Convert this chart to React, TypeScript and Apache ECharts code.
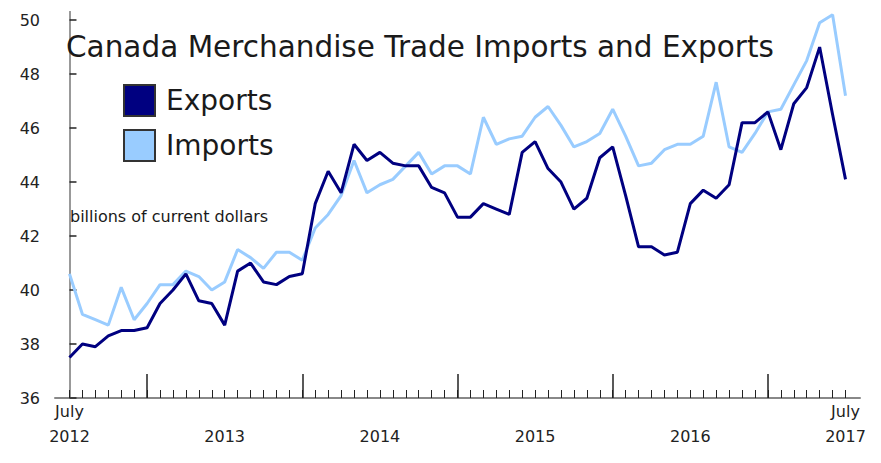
import React, { useEffect, useRef } from "react";
import * as echarts from "echarts";

const months: number[] = Array.from({ length: 61 }, (_, i) => i); // July 2012 .. July 2017

const exportsData = [
  37.5, 38.0, 37.9, 38.3, 38.5, 38.5,
  38.6, 39.5, 40.0, 40.6, 39.6, 39.5, 38.7, 40.7, 41.0, 40.3, 40.2, 40.5,
  40.6, 43.2, 44.4, 43.6, 45.4, 44.8, 45.1, 44.7, 44.6, 44.6, 43.8, 43.6,
  42.7, 42.7, 43.2, 43.0, 42.8, 45.1, 45.5, 44.5, 44.0, 43.0, 43.4, 44.9,
  45.3, 43.5, 41.6, 41.6, 41.3, 41.4, 43.2, 43.7, 43.4, 43.9, 46.2, 46.2,
  46.6, 45.2, 46.9, 47.5, 49.0, 46.5, 44.1,
];

const importsData = [
  40.6, 39.1, 38.9, 38.7, 40.1, 38.9,
  39.5, 40.2, 40.2, 40.7, 40.5, 40.0, 40.3, 41.5, 41.2, 40.8, 41.4, 41.4,
  41.1, 42.3, 42.8, 43.5, 44.8, 43.6, 43.9, 44.1, 44.6, 45.1, 44.3, 44.6,
  44.6, 44.3, 46.4, 45.4, 45.6, 45.7, 46.4, 46.8, 46.1, 45.3, 45.5, 45.8,
  46.7, 45.7, 44.6, 44.7, 45.2, 45.4, 45.4, 45.7, 47.7, 45.3, 45.1, 45.8,
  46.6, 46.7, 47.6, 48.5, 49.9, 50.2, 47.2,
];

const yTicks = [36, 38, 40, 42, 44, 46, 48, 50];
const yearLabelPositions = [0, 12, 24, 36, 48, 60];
const yearLabels = ["July\n2012", "\n2013", "\n2014", "\n2015", "\n2016", "July\n2017"];
const januaryPositions = [6, 18, 30, 42, 54];

const FONT = "DejaVu Sans";

export default function App() {
  const ref = useRef<HTMLDivElement>(null);
  useEffect(() => {
    if (!ref.current) return;
    const chart = echarts.init(ref.current, undefined, { renderer: "svg" });
    const exp = months.map((m, i) => [m, exportsData[i]]);
    const imp = months.map((m, i) => [m, importsData[i]]);
    chart.setOption({
      animation: false,
      backgroundColor: "#ffffff",
      title: {
        text: "Canada Merchandise Trade Imports and Exports",
        left: 66,
        top: 30,
        padding: 0,
        textStyle: {
          fontFamily: FONT,
          fontSize: 29.5,
          fontWeight: "normal",
          color: "#1a1a1a",
          lineHeight: 34,
        },
      },
      legend: {
        orient: "vertical",
        left: 123,
        top: 84,
        itemWidth: 31,
        itemHeight: 31,
        itemGap: 12,
        icon: "rect",
        padding: 0,
        textStyle: { fontFamily: FONT, fontSize: 28, color: "#1a1a1a", padding: [0, 0, 0, 6] },
        data: [
          { name: "Exports", itemStyle: { color: "#000080", borderColor: "#333333", borderWidth: 2 } },
          { name: "Imports", itemStyle: { color: "#99ccff", borderColor: "#333333", borderWidth: 2 } },
        ],
      },
      graphic: [
        {
          type: "text",
          left: 70,
          top: 208,
          style: {
            text: "billions of current dollars",
            fontFamily: FONT,
            fontSize: 16,
            fill: "#1a1a1a",
          },
        },
      ],
      grid: { left: 55, right: 21, top: 12, bottom: 65 },
      xAxis: [
        {
          type: "value",
          min: -1.12,
          max: 61.12,
          axisLine: { show: true, lineStyle: { color: "#888888", width: 2 } },
          axisTick: {
            show: true,
            inside: true,
            length: 8,
            customValues: months,
            lineStyle: { color: "#222222", width: 1 },
          },
          axisLabel: {
            show: true,
            customValues: yearLabelPositions,
            formatter: (v: number) => {
              const idx = yearLabelPositions.indexOf(Math.round(v));
              return idx >= 0 ? yearLabels[idx] : "";
            },
            fontFamily: FONT,
            fontSize: 16,
            color: "#222222",
            lineHeight: 25,
            margin: 1,
          },
          splitLine: { show: false },
        },
        {
          type: "value",
          min: -1.12,
          max: 61.12,
          position: "bottom",
          axisLine: { show: false },
          axisTick: {
            show: true,
            inside: true,
            length: 24,
            customValues: januaryPositions,
            lineStyle: { color: "#222222", width: 1.5 },
          },
          axisLabel: { show: false },
          splitLine: { show: false },
        },
      ],
      yAxis: [
        {
          type: "value",
          min: 36,
          max: 50.3,
          axisLine: { show: true, lineStyle: { color: "#888888", width: 2 } },
          axisTick: {
            show: true,
            inside: true,
            length: 7,
            customValues: yTicks,
            lineStyle: { color: "#222222", width: 1.5 },
          },
          axisLabel: {
            customValues: yTicks,
            fontFamily: FONT,
            fontSize: 16,
            color: "#222222",
            margin: 15,
          },
          splitLine: { show: false },
        },
        {
          type: "value",
          min: 36,
          max: 50.3,
          position: "right",
          axisLine: { show: true, lineStyle: { color: "#999999", width: 2 } },
          axisTick: { show: false },
          axisLabel: { show: false },
          splitLine: { show: false },
        },
      ],
      series: [
        {
          name: "Imports",
          type: "line",
          data: imp,
          showSymbol: false,
          symbol: "none",
          lineStyle: { color: "#99ccff", width: 3 },
          itemStyle: { color: "#99ccff" },
          z: 2,
        },
        {
          name: "Exports",
          type: "line",
          data: exp,
          showSymbol: false,
          symbol: "none",
          lineStyle: { color: "#000080", width: 3 },
          itemStyle: { color: "#000080" },
          z: 3,
        },
      ],
    });
    return () => chart.dispose();
  }, []);
  return (
    <div
      ref={ref}
      style={{ position: "fixed", left: 0, top: 0, width: 881, height: 463 }}
    />
  );
}
